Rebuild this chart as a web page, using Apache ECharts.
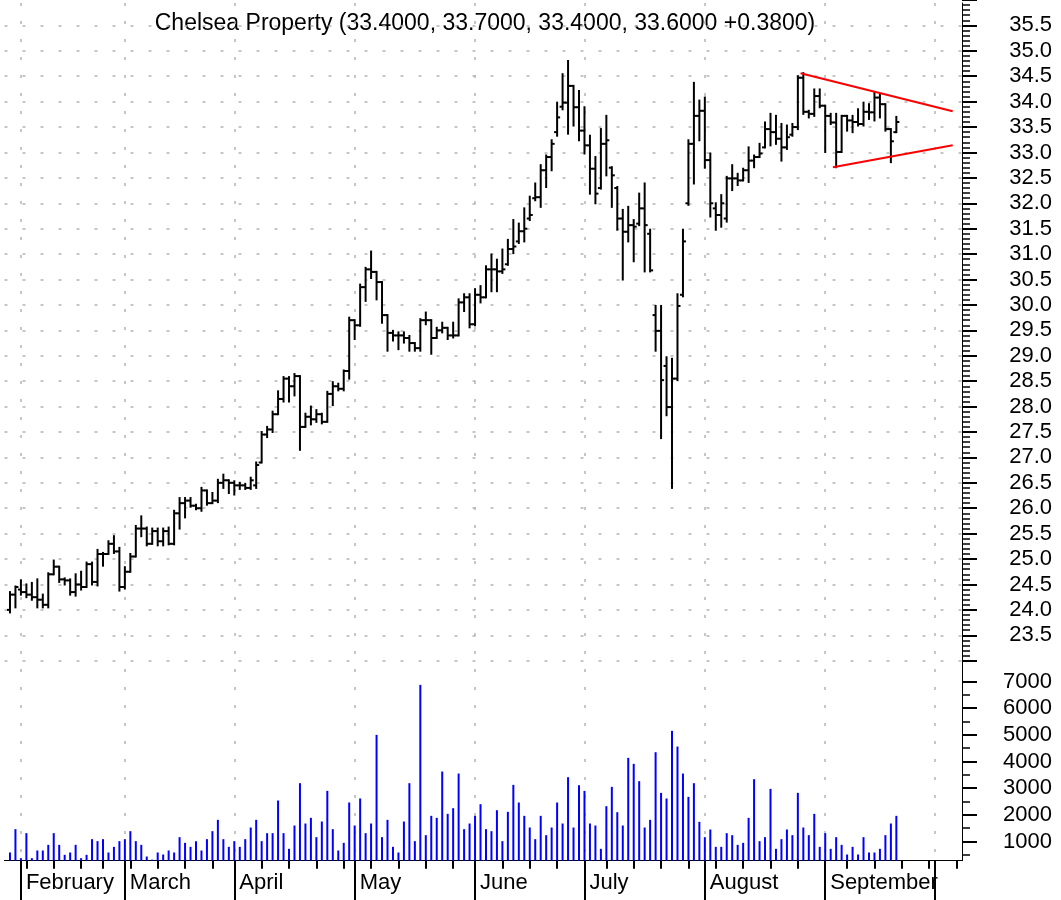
<!DOCTYPE html>
<html>
<head>
<meta charset="utf-8">
<script src="https://cdn.jsdelivr.net/npm/echarts@6/dist/echarts.min.js"></script>
<style>
html, body { margin: 0; padding: 0; background: #fff; }
#chart { width: 1061px; height: 900px; }
</style>
</head>
<body>
<div id="chart"></div>
<script>
// trading calendar 2002 (index 0 = Jan 29, first bar = Jan 30)
const holidays = ['2002-02-18', '2002-03-29', '2002-05-27', '2002-07-04', '2002-09-02'];
const monthNames = ['January', 'February', 'March', 'April', 'May', 'June', 'July',
  'August', 'September', 'October', 'November', 'December'];
const firstBar = 1;

const opens = [
  24.0, 24.3, 24.4, 24.35, 24.3, 24.25, 24.2, 24.1, 24.7, 24.85,
  24.6, 24.58, 24.35, 24.5, 24.45, 24.9, 24.55, 25.1, 25.1, 25.3,
  25.15, 24.45, 24.75, 25.05, 25.6, 25.6, 25.3, 25.55, 25.35, 25.55,
  25.3, 25.9, 26.1, 26.15, 26.05, 26.0, 26.35, 26.1, 26.15, 26.5,
  26.55, 26.5, 26.45, 26.45, 26.4, 26.45, 26.9, 27.45, 27.55, 27.85,
  28.15, 28.55, 28.4, 28.6, 27.6, 27.8, 27.75, 27.85, 27.7, 28.25,
  28.4, 28.35, 28.7, 29.7, 29.6, 30.35, 30.7, 30.65, 30.45, 29.8,
  29.45, 29.4, 29.4, 29.35, 29.25, 29.15, 29.7, 29.7, 29.35, 29.5,
  29.55, 29.4, 29.4, 30.05, 30.15, 29.62, 30.2, 30.15, 30.7, 30.7,
  30.66, 30.8, 31.1, 31.25, 31.45, 31.7, 32.1, 32.12, 32.65, 32.91,
  33.4, 33.9, 33.98, 34.31, 33.89, 33.43, 33.14, 32.68, 32.3, 33.17,
  32.7, 32.3, 31.7, 31.44, 31.57, 31.6, 31.9, 31.4, 29.8, 29.49,
  28.8, 27.99, 28.55, 30.2, 32.0, 33.17, 33.72, 33.82, 32.85, 31.9,
  31.77, 31.7, 32.49, 32.49, 32.45, 32.65, 32.84, 32.91, 33.1, 33.46,
  33.4, 33.27, 33.1, 33.35, 33.5, 34.47, 33.8, 33.76, 34.11, 33.92,
  33.72, 33.59, 33.01, 33.72, 33.63, 33.6, 33.56, 33.8, 33.79, 34.08,
  33.95, 33.46, 33.4
];
const highs = [
  24.35, 24.46, 24.58, 24.5, 24.53, 24.6, 24.3, 24.72, 24.97, 24.85,
  24.62, 24.6, 24.7, 24.75, 24.93, 24.93, 25.18, 25.12, 25.35, 25.45,
  25.22, 24.84, 25.1, 25.65, 25.84, 25.62, 25.6, 25.6, 25.6, 25.62,
  25.95, 26.2, 26.2, 26.2, 26.07, 26.4, 26.35, 26.3, 26.56, 26.66,
  26.55, 26.53, 26.5, 26.48, 26.6, 26.9, 27.5, 27.6, 27.9, 28.3,
  28.58, 28.58, 28.64, 28.6, 27.86, 28.0, 27.93, 27.86, 28.29, 28.48,
  28.45, 28.71, 29.75, 29.7, 30.4, 30.73, 31.05, 30.65, 30.45, 29.8,
  29.49, 29.46, 29.46, 29.39, 29.25, 29.72, 29.85, 29.7, 29.55, 29.65,
  29.55, 29.65, 30.11, 30.21, 30.21, 30.31, 30.37, 30.76, 30.99, 30.89,
  31.09, 31.28, 31.67, 31.6, 31.9, 32.13, 32.39, 32.75, 32.94, 33.24,
  33.98, 34.54, 34.8, 34.31, 34.21, 33.89, 33.33, 32.91, 33.46, 33.72,
  32.71, 32.32, 31.87, 31.93, 31.67, 32.19, 32.39, 31.48, 29.98, 29.98,
  28.97, 28.94, 30.21, 31.48, 33.24, 34.37, 34.02, 34.08, 32.98, 32.0,
  32.16, 32.52, 32.75, 32.58, 32.68, 33.1, 32.94, 33.17, 33.59, 33.76,
  33.72, 33.56, 33.53, 33.56, 34.5, 34.56, 33.82, 34.24, 34.24, 33.92,
  33.76, 33.76, 33.72, 33.72, 33.72, 33.85, 33.98, 33.95, 34.18, 34.15,
  33.95, 33.46, 33.7
];
const lows = [
  23.95, 24.05, 24.3, 24.25, 24.2, 24.05, 24.05, 24.05, 24.7, 24.55,
  24.5, 24.3, 24.28, 24.4, 24.45, 24.5, 24.48, 24.87, 25.1, 25.12,
  24.38, 24.42, 24.75, 25.05, 25.45, 25.27, 25.3, 25.27, 25.27, 25.29,
  25.29, 25.6, 25.82, 26.03, 25.98, 25.95, 26.07, 26.1, 26.12, 26.4,
  26.3, 26.27, 26.38, 26.38, 26.38, 26.4, 26.9, 27.4, 27.5, 27.85,
  28.1, 28.1, 28.22, 27.15, 27.6, 27.65, 27.7, 27.67, 27.7, 28.03,
  28.32, 28.32, 28.55, 29.33, 29.59, 30.08, 30.53, 30.11, 29.65, 29.1,
  29.3, 29.13, 29.26, 29.1, 29.1, 29.1, 29.62, 29.04, 29.35, 29.46,
  29.33, 29.36, 29.4, 29.88, 29.56, 29.6, 30.05, 30.15, 30.27, 30.27,
  30.63, 30.79, 31.02, 31.22, 31.25, 31.67, 32.06, 31.93, 32.32, 32.65,
  33.33, 33.85, 33.37, 33.53, 33.24, 32.98, 32.19, 32.0, 32.29, 32.55,
  31.93, 31.48, 30.5, 31.25, 30.86, 31.57, 30.66, 30.66, 29.1, 27.38,
  27.83, 26.4, 28.52, 30.17, 31.97, 32.39, 33.24, 32.7, 31.74, 31.48,
  31.54, 31.64, 32.26, 32.36, 32.45, 32.42, 32.71, 32.91, 33.1, 33.14,
  33.17, 32.84, 33.07, 33.33, 33.46, 33.76, 33.69, 33.72, 33.89, 33.01,
  33.56, 32.71, 33.01, 33.43, 33.4, 33.53, 33.53, 33.66, 33.63, 33.69,
  33.43, 32.81, 33.4
];
const closes = [
  24.3, 24.45, 24.35, 24.3, 24.25, 24.2, 24.1, 24.7, 24.85, 24.6,
  24.58, 24.35, 24.5, 24.45, 24.9, 24.55, 25.1, 25.1, 25.3, 25.15,
  24.45, 24.75, 25.05, 25.6, 25.6, 25.3, 25.55, 25.35, 25.55, 25.3,
  25.9, 26.1, 26.15, 26.05, 26.0, 26.35, 26.1, 26.15, 26.5, 26.55,
  26.5, 26.45, 26.45, 26.4, 26.55, 26.85, 27.45, 27.55, 27.85, 28.15,
  28.55, 28.4, 28.6, 27.6, 27.8, 27.75, 27.85, 27.7, 28.25, 28.4,
  28.35, 28.7, 29.7, 29.6, 30.35, 30.7, 30.65, 30.45, 29.8, 29.45,
  29.4, 29.4, 29.35, 29.25, 29.15, 29.7, 29.7, 29.35, 29.5, 29.55,
  29.4, 29.4, 30.05, 30.15, 29.62, 30.2, 30.15, 30.7, 30.7, 30.66,
  30.7, 31.1, 31.15, 31.45, 31.5, 31.77, 32.12, 32.65, 32.91, 33.17,
  33.69, 33.98, 34.31, 33.89, 33.43, 33.14, 32.68, 32.19, 33.17, 33.24,
  32.55, 31.7, 31.44, 31.57, 31.54, 31.9, 31.57, 30.68, 29.49, 28.52,
  27.99, 28.55, 29.98, 31.25, 33.17, 33.72, 33.82, 32.85, 32.0, 31.77,
  32.0, 32.49, 32.49, 32.45, 32.65, 32.84, 32.91, 32.98, 33.46, 33.4,
  33.27, 33.1, 33.3, 33.5, 34.47, 33.8, 33.76, 34.11, 33.92, 33.72,
  33.59, 33.01, 33.72, 33.63, 33.6, 33.56, 33.8, 33.79, 34.08, 33.95,
  33.46, 33.22, 33.6
];
const volumes = [
  588, 1463, 375, 1313, 375, 663, 663, 875, 1313, 875,
  500, 588, 875, 375, 500, 1088, 1013, 1088, 588, 800,
  1013, 1088, 1388, 1013, 875, 438, 320, 588, 513, 663,
  588, 1163, 950, 800, 1013, 663, 1088, 1388, 1813, 1088,
  800, 1013, 800, 1088, 1525, 1813, 1013, 1313, 1313, 2538,
  1313, 725, 1600, 3188, 1675, 1888, 1163, 1750, 2900, 1463,
  663, 950, 2463, 1600, 2613, 1313, 1675, 5000, 1163, 1813,
  800, 588, 1750, 3188, 1013, 6875, 1238, 1963, 1888, 3625,
  2038, 2250, 3550, 1463, 1675, 1963, 2400, 1463, 1388, 2175,
  1013, 2113, 3125, 2463, 1963, 1525, 1088, 1963, 1238, 1525,
  2463, 1675, 3413, 1525, 3113, 2900, 1675, 1600, 725, 2325,
  3050, 2100, 1600, 4138, 3913, 3263, 1525, 1813, 4350, 2825,
  2613, 5150, 4563, 3550, 2675, 3188, 1738, 1163, 1450, 800,
  800, 1313, 1238, 875, 950, 1888, 3338, 1013, 1163, 2975,
  725, 1088, 1450, 1238, 2825, 1525, 1238, 2038, 800, 1313,
  725, 1163, 875, 513, 800, 513, 1163, 588, 588, 725,
  1238, 1675, 1963
];

// triangle trend lines [bar index, price]
const upperTrend = [[145.5, 34.56], [173.3, 33.81]];
const lowerTrend = [[151.4, 32.71], [173.3, 33.14]];

const priceLabels = [23, 36, 0.5];
const volumeTicks = [1000, 2000, 3000, 4000, 5000, 6000, 7000];
const volumeMinorTicks = [500, 1500, 2500, 3500, 4500, 5500, 6500];
const titleText = 'Chelsea Property (33.4000, 33.7000, 33.4000, 33.6000 +0.3800)';

const dates = [];
for (let d = new Date(Date.UTC(2002, 0, 29)); d.getTime() <= Date.UTC(2002, 9, 8); d.setUTCDate(d.getUTCDate() + 1)) {
  const wd = d.getUTCDay();
  const s = d.toISOString().slice(0, 10);
  if (wd !== 0 && wd !== 6 && holidays.indexOf(s) < 0) dates.push(s);
}
const lastBar = firstBar + closes.length - 1;
const dow = s => new Date(s + 'T00:00:00Z').getUTCDay();
const isMonthStart = i => i > 0 && dates[i].slice(5, 7) !== dates[i - 1].slice(5, 7);
const isWeekStart = i => i > 0 && dow(dates[i]) < dow(dates[i - 1]);
const isLabelMonth = i => isMonthStart(i) && i <= lastBar;

const ohlc = opens.map((o, k) => [firstBar + k, o, highs[k], lows[k], closes[k]]);
const vol = volumes.map((v, k) => [firstBar + k, v]);

const FONT = '"Liberation Sans", Arial, sans-serif';
const dotted = { color: '#b4b4b4', width: 1.5, type: [3, 15] };
const GL = 4.5, GR = 99;

function renderOhlc(params, api) {
  const i = api.value(0);
  const x = api.coord([i, api.value(1)])[0];
  const yo = api.coord([i, api.value(1)])[1];
  const yh = api.coord([i, api.value(2)])[1];
  const yl = api.coord([i, api.value(3)])[1];
  const yc = api.coord([i, api.value(4)])[1];
  const style = { stroke: '#000', lineWidth: 2 };
  return {
    type: 'group',
    children: [
      { type: 'line', shape: { x1: x, y1: yh - 1, x2: x, y2: yl + 1 }, style: style },
      { type: 'line', shape: { x1: x - 3, y1: yo, x2: x, y2: yo }, style: style },
      { type: 'line', shape: { x1: x, y1: yc, x2: x + 3, y2: yc }, style: style }
    ]
  };
}

const chart = echarts.init(document.getElementById('chart'));
chart.setOption({
  animation: false,
  backgroundColor: '#fff',
  textStyle: { fontFamily: FONT },
  grid: [
    { left: GL, right: GR, top: 3, bottom: 39.3 },
    { left: GL, right: GR, top: -4.9, height: 665.6 },
    { left: GL, right: GR, top: 669.3, bottom: 39.3 }
  ],
  xAxis: [
    {
      gridIndex: 0, type: 'category', position: 'bottom', data: dates, boundaryGap: false,
      axisLine: { onZero: false, lineStyle: { color: '#000', width: 1 } },
      axisTick: { interval: isWeekStart, length: 8, lineStyle: { color: '#000', width: 2 } },
      axisLabel: {
        interval: isLabelMonth,
        formatter: v => monthNames[parseInt(v.slice(5, 7), 10) - 1],
        align: 'left', margin: 11, padding: [0, 0, 0, 5],
        fontSize: 22, color: '#000', fontFamily: FONT
      },
      splitLine: { show: true, interval: isMonthStart, lineStyle: dotted }
    },
    {
      gridIndex: 0, type: 'category', position: 'bottom', data: dates, boundaryGap: false,
      axisLine: { show: false, onZero: false },
      axisTick: { interval: isMonthStart, length: 40, lineStyle: { color: '#000', width: 2 } },
      axisLabel: { show: false },
      splitLine: { show: false }
    },
    { gridIndex: 1, type: 'category', position: 'bottom', data: dates, boundaryGap: false, show: false },
    { gridIndex: 1, type: 'value', position: 'bottom', min: 0, max: dates.length - 1, show: false },
    { gridIndex: 2, type: 'category', position: 'bottom', data: dates, boundaryGap: false, show: false }
  ],
  yAxis: [
    {
      gridIndex: 0, type: 'value', position: 'right', min: 0, max: 1,
      axisLine: { show: true, onZero: false, lineStyle: { color: '#000', width: 1 } },
      axisTick: { show: false }, axisLabel: { show: false }, splitLine: { show: false }
    },
    {
      gridIndex: 1, type: 'value', position: 'right',
      min: priceLabels[0], max: priceLabels[1], interval: priceLabels[2],
      axisLine: { show: false, onZero: false },
      axisTick: { show: true, length: 15, lineStyle: { color: '#000', width: 2 } },
      minorTick: { show: true, splitNumber: 5, length: 8, lineStyle: { color: '#000', width: 1.5 } },
      axisLabel: {
        showMinLabel: false, showMaxLabel: false,
        formatter: v => v.toFixed(1),
        align: 'right', margin: 90, fontSize: 22, color: '#000', fontFamily: FONT
      },
      splitLine: { show: true, showMaxLine: false, lineStyle: dotted }
    },
    {
      gridIndex: 2, type: 'value', position: 'right', min: 280, max: 7460,
      axisLine: { show: false, onZero: false },
      axisTick: { show: true, customValues: volumeTicks, length: 15, lineStyle: { color: '#000', width: 2 } },
      axisLabel: {
        customValues: volumeTicks, formatter: v => String(v),
        align: 'right', margin: 90, fontSize: 22, color: '#000', fontFamily: FONT
      },
      splitLine: { show: false }
    },
    {
      gridIndex: 2, type: 'value', position: 'right', min: 280, max: 7460,
      axisLine: { show: false, onZero: false },
      axisTick: { show: true, customValues: volumeMinorTicks, length: 8, lineStyle: { color: '#000', width: 1.5 } },
      axisLabel: { show: false },
      splitLine: { show: false }
    }
  ],
  graphic: [{
    type: 'text', x: 485, y: 24,
    style: {
      text: titleText, font: '23px ' + FONT, fill: '#000',
      align: 'center', verticalAlign: 'middle',
      textAlign: 'center', textVerticalAlign: 'middle'
    }
  }],
  series: [
    {
      type: 'custom', name: 'price', xAxisIndex: 2, yAxisIndex: 1,
      renderItem: renderOhlc, encode: { x: 0, y: [1, 2, 3, 4] }, data: ohlc
    },
    {
      type: 'line', name: 'upper', xAxisIndex: 3, yAxisIndex: 1, data: upperTrend,
      symbol: 'none', lineStyle: { color: '#ff0000', width: 2 }
    },
    {
      type: 'line', name: 'lower', xAxisIndex: 3, yAxisIndex: 1, data: lowerTrend,
      symbol: 'none', lineStyle: { color: '#ff0000', width: 2 }
    },
    {
      type: 'bar', name: 'volume', xAxisIndex: 4, yAxisIndex: 2, data: vol,
      barWidth: 2, itemStyle: { color: '#0000ff' }
    }
  ]
});
</script>
</body>
</html>
